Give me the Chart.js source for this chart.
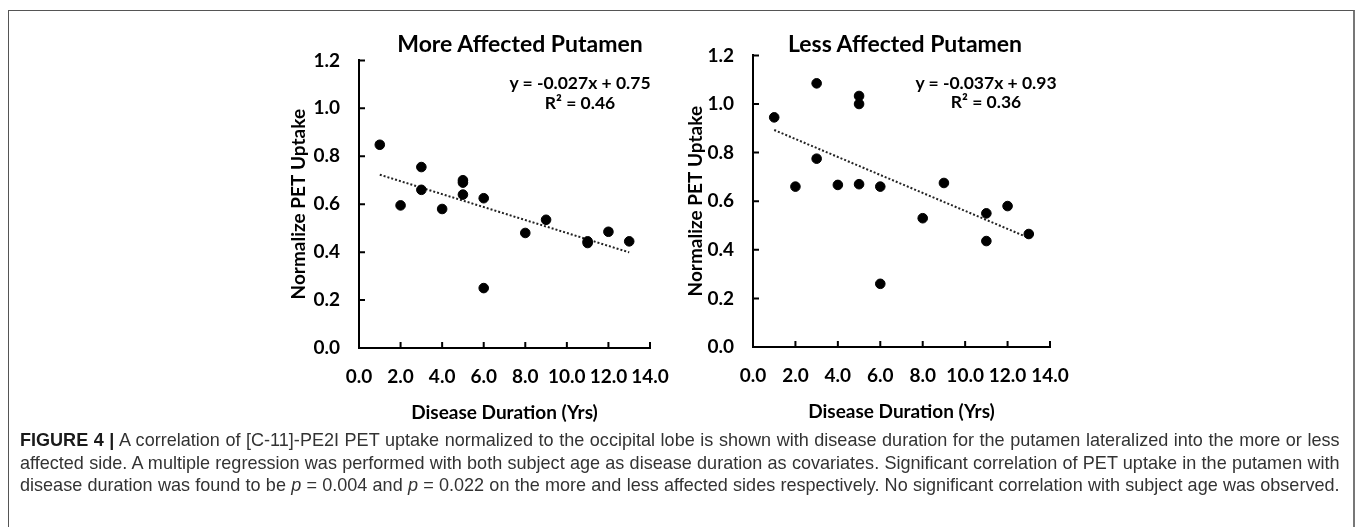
<!DOCTYPE html>
<html>
<head>
<meta charset="utf-8">
<script src="https://cdn.jsdelivr.net/npm/chart.js@4.4.0/dist/chart.umd.min.js"></script>
<style>
  body { margin: 0; background: #fff; width: 1357px; height: 527px; overflow: hidden; position: relative; font-family: Lato, sans-serif; }
  #frame { position: absolute; left: 8px; top: 10px; width: 1347px; height: 540px; border: 1.5px solid #555; border-right: 2.5px solid #777; box-sizing: border-box; }
  canvas { position: absolute; }
  .ttl { position: absolute; transform: translate(-50%, -50%); font-weight: 700; font-size: 23px; color: #000; white-space: nowrap; }
  .eq { position: absolute; transform: translate(-50%, -50%); font-weight: 700; font-size: 17.5px; color: #000; white-space: nowrap; }
  #caption { position: absolute; left: 20px; top: 429px; width: 1389px; transform: scaleX(0.95); transform-origin: 0 0;
             font-family: "Liberation Sans", Arial, sans-serif; font-size: 19px; line-height: 22.5px; color: #333; }
  #caption div { text-align: justify; text-align-last: justify; white-space: nowrap; }
  #caption b { color: #1a1a1a; }
</style>
</head>
<body>
<div id="frame"></div>
<canvas id="more-chart" width="415" height="405" style="left:255px;top:30px"></canvas>
<canvas id="less-chart" width="421" height="409" style="left:649px;top:25px"></canvas>

<div class="ttl" style="left:520px;top:43px">More Affected Putamen</div>
<div class="eq" style="left:580px;top:82px">y = -0.027x + 0.75</div>
<div class="eq" style="left:580px;top:102px">R² = 0.46</div>
<div class="ttl" style="left:905px;top:43px">Less Affected Putamen</div>
<div class="eq" style="left:986px;top:82px">y = -0.037x + 0.93</div>
<div class="eq" style="left:986px;top:101px">R² = 0.36</div>

<div id="caption">
  <div><b>FIGURE 4 |</b> A correlation of [C-11]-PE2I PET uptake normalized to the occipital lobe is shown with disease duration for the putamen lateralized into the more or less</div>
  <div>affected side. A multiple regression was performed with both subject age as disease duration as covariates. Significant correlation of PET uptake in the putamen with</div>
  <div>disease duration was found to be <i>p</i> = 0.004 and <i>p</i> = 0.022 on the more and less affected sides respectively. No significant correlation with subject age was observed.</div>
</div>

<script>
// Axis ticks
const xTicks = [0, 2, 4, 6, 8, 10, 12, 14];
const yTicks = [0, 0.2, 0.4, 0.6, 0.8, 1.0, 1.2];

// More affected putamen
const moreYears = [1, 2, 3, 3, 4, 5, 5, 5, 6, 6, 8, 9, 11, 11, 12, 13];
const moreUptake = [0.848, 0.595, 0.755, 0.66, 0.58, 0.70, 0.69, 0.64, 0.625, 0.25, 0.48, 0.535, 0.445, 0.438, 0.485, 0.445];
const moreTrendX = [1, 13];
const moreTrendY = [0.723, 0.399];

// Less affected putamen
const lessYears = [1, 2, 3, 3, 4, 5, 5, 5, 6, 6, 8, 9, 11, 11, 12, 13];
const lessUptake = [0.945, 0.66, 1.085, 0.775, 0.667, 1.033, 1.0, 0.67, 0.66, 0.26, 0.53, 0.675, 0.55, 0.436, 0.58, 0.465];
const lessTrendX = [1, 13];
const lessTrendY = [0.893, 0.449];

// inward tick marks, like the Excel original
const innerTicks = {
  id: 'innerTicks',
  afterDraw(chart) {
    const { ctx, scales: { x, y } } = chart;
    ctx.save();
    ctx.strokeStyle = '#000';
    ctx.lineWidth = 2;
    ctx.beginPath();
    x.ticks.forEach((t, i) => {
      if (i === 0) return;
      const px = x.getPixelForTick(i);
      ctx.moveTo(px, x.top);
      ctx.lineTo(px, x.top - 6);
    });
    y.ticks.forEach((t, i) => {
      if (i === 0) return;
      const py = y.getPixelForTick(i);
      ctx.moveTo(y.right, py);
      ctx.lineTo(y.right + 6, py);
    });
    ctx.stroke();
    ctx.restore();
  }
};

const tickFont = { family: 'Lato', weight: 'bold', size: 19 };

function makeChart(id, xs, ys, tx, ty, pad) {
  new Chart(document.getElementById(id), {
    type: 'scatter',
    data: {
      datasets: [{
        data: xs.map((v, i) => ({ x: v, y: ys[i] })),
        backgroundColor: '#000',
        borderColor: '#000',
        pointRadius: 4.8,
        pointHoverRadius: 4.8
      }, {
        type: 'line',
        data: tx.map((v, i) => ({ x: v, y: ty[i] })),
        borderColor: '#222',
        borderWidth: 2,
        borderDash: [2, 2],
        pointRadius: 0,
        fill: false
      }]
    },
    options: {
      responsive: false,
      animation: false,
      clip: false,
      layout: { padding: { top: pad.top, right: 20, bottom: 0, left: 0 } },
      plugins: { legend: { display: false }, tooltip: { enabled: false } },
      scales: {
        x: {
          type: 'linear', min: 0, max: 14,
          afterBuildTicks: s => { s.ticks = xTicks.map(v => ({ value: v })); },
          afterFit: s => { s.height = 87; s.paddingLeft = 0; s.paddingRight = 0; },
          grid: { display: false, drawTicks: false },
          border: { display: true, color: '#000', width: 2 },
          ticks: { color: '#000', font: tickFont, padding: 17, maxRotation: 0, callback: v => Number(v).toFixed(1) },
          title: { display: true, text: 'Disease Duration (Yrs)', color: '#000', font: tickFont, padding: { bottom: 11 } }
        },
        y: {
          type: 'linear', min: 0, max: 1.2,
          afterBuildTicks: s => { s.ticks = yTicks.map(v => ({ value: v })); },
          afterFit: s => { s.width = 104; },
          grid: { display: false, drawTicks: false },
          border: { display: true, color: '#000', width: 2 },
          ticks: { color: '#000', font: tickFont, padding: 19, callback: v => Number(v).toFixed(1) },
          title: { display: true, text: 'Normalize PET Uptake', color: '#000', font: tickFont, padding: { top: pad.title } }
        }
      }
    },
    plugins: [innerTicks]
  });
}

makeChart('more-chart', moreYears, moreUptake, moreTrendX, moreTrendY, { top: 28, title: 32 });
makeChart('less-chart', lessYears, lessUptake, lessTrendX, lessTrendY, { top: 28, title: 35 });
</script>
</body>
</html>
